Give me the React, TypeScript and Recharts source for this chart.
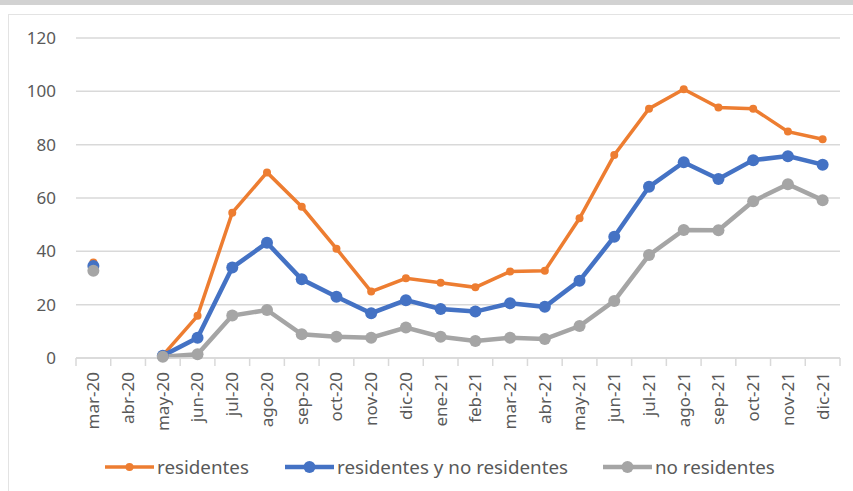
import { CartesianGrid, Line, LineChart, XAxis, YAxis } from 'recharts'

const months = [
  'mar-20', 'abr-20', 'may-20', 'jun-20', 'jul-20', 'ago-20', 'sep-20', 'oct-20',
  'nov-20', 'dic-20', 'ene-21', 'feb-21', 'mar-21', 'abr-21', 'may-21', 'jun-21',
  'jul-21', 'ago-21', 'sep-21', 'oct-21', 'nov-21', 'dic-21',
]

const residentes = [
  35.8, null, 1, 15.8, 54.5, 69.6, 56.7, 41, 24.9, 29.9, 28.2, 26.5, 32.4, 32.7, 52.4, 76.1,
  93.5, 100.8, 93.9, 93.5, 84.9, 82,
]

const residentesYNoResidentes = [
  34.5, null, 0.8, 7.6, 33.9, 43.2, 29.5, 23, 16.8, 21.7, 18.4, 17.4, 20.5, 19.2, 29, 45.5,
  64.2, 73.4, 67.1, 74.2, 75.7, 72.5,
]

const noResidentes = [
  32.7, null, 0.5, 1.4, 15.9, 18, 8.9, 8, 7.6, 11.4, 8, 6.4, 7.6, 7.1, 12, 21.4, 38.6, 48,
  47.9, 58.8, 65.2, 59.2,
]

const yTicks = [0, 20, 40, 60, 80, 100, 120]

const chartData = months.map((month, i) => ({
  month,
  residentes: residentes[i],
  ambos: residentesYNoResidentes[i],
  noResidentes: noResidentes[i],
}))

const textColor = '#595959'
const gridColor = '#d9d9d9'
const font = '"Noto Sans", sans-serif'

const series = [
  { name: 'residentes', color: '#ED7D31', width: 3.5, r: 4 },
  { name: 'residentes y no residentes', color: '#4472C4', width: 4.5, r: 6 },
  { name: 'no residentes', color: '#A5A5A5', width: 4.5, r: 6 },
]

function MonthTick(props: any) {
  const { x, y, payload, index, visibleTicksCount } = props
  const half = payload.offset ?? 17.4
  const isLast = index === visibleTicksCount - 1
  return (
    <g>
      <line x1={x - half} x2={x - half} y1={y - 8} y2={y} stroke={gridColor} strokeWidth={1.5} />
      {isLast && (
        <line x1={x + half} x2={x + half} y1={y - 8} y2={y} stroke={gridColor} strokeWidth={1.5} />
      )}
      <g transform={`translate(${x},${y + 6}) rotate(-90)`}>
        <text
          x={0}
          y={0}
          dy="0.35em"
          textAnchor="end"
          fill={textColor}
          fontSize={17}
          fontFamily={font}
        >
          {payload.value}
        </text>
      </g>
    </g>
  )
}

function LegendItem({ name, color, width, r }: (typeof series)[number]) {
  return (
    <div style={{ display: 'flex', alignItems: 'center' }}>
      <svg width={49} height={14} style={{ marginRight: 3 }}>
        <line x1={0} x2={49} y1={7} y2={7} stroke={color} strokeWidth={width} />
        <circle cx={24.5} cy={7} r={r} fill={color} />
      </svg>
      <span style={{ color: textColor, fontSize: 18.8, fontFamily: font }}>{name}</span>
    </div>
  )
}

function App() {
  return (
    <div
      style={{
        position: 'absolute',
        left: 0,
        top: 0,
        width: 853,
        height: 491,
        background: '#fff',
        overflow: 'hidden',
      }}
    >
      <div style={{ position: 'absolute', left: 0, top: 0, width: 853, height: 5, background: '#d2d2d2' }} />
      <div
        style={{
          position: 'absolute',
          left: 8,
          top: 14,
          width: 860,
          height: 500,
          border: '1px solid #e3e3e3',
        }}
      />
      <div style={{ position: 'absolute', left: 0, top: 0 }}>
        <LineChart
          width={853}
          height={491}
          data={chartData}
          margin={{ top: 38, right: 13, left: 0, bottom: 51 }}
        >
          <CartesianGrid vertical={false} stroke={gridColor} strokeWidth={1.5} />
          <XAxis
            dataKey="month"
            scale="band"
            interval={0}
            height={82}
            axisLine={{ stroke: gridColor, strokeWidth: 1.5 }}
            tickLine={false}
            tick={<MonthTick />}
          />
          <YAxis
            width={76}
            domain={[0, 120]}
            ticks={yTicks}
            axisLine={false}
            tickLine={false}
            tickMargin={14}
            tick={{ fill: textColor, fontSize: 17, fontFamily: font }}
          />
          <Line
            dataKey="residentes"
            stroke={series[0].color}
            strokeWidth={series[0].width}
            dot={{ r: series[0].r, fill: series[0].color, stroke: series[0].color, strokeWidth: 0 }}
            isAnimationActive={false}
          />
          <Line
            dataKey="ambos"
            stroke={series[1].color}
            strokeWidth={series[1].width}
            dot={{ r: series[1].r, fill: series[1].color, stroke: series[1].color, strokeWidth: 0 }}
            isAnimationActive={false}
          />
          <Line
            dataKey="noResidentes"
            stroke={series[2].color}
            strokeWidth={series[2].width}
            dot={{ r: series[2].r, fill: series[2].color, stroke: series[2].color, strokeWidth: 0 }}
            isAnimationActive={false}
          />
        </LineChart>
      </div>
      <div style={{ position: 'absolute', left: 105, top: 454, display: 'flex' }}>
        <div style={{ width: 180 }}>
          <LegendItem {...series[0]} />
        </div>
        <div style={{ width: 318 }}>
          <LegendItem {...series[1]} />
        </div>
        <LegendItem {...series[2]} />
      </div>
    </div>
  )
}

export default App
